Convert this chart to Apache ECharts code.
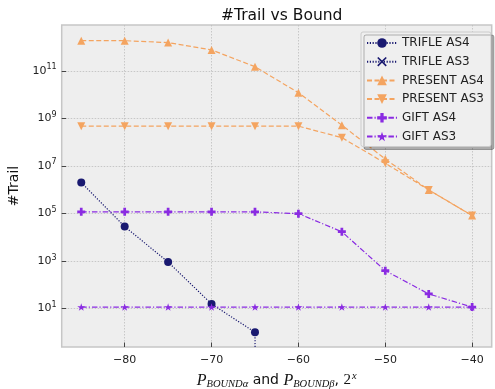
<!DOCTYPE html>
<html>
<head>
<meta charset="utf-8">
<script src="https://cdn.jsdelivr.net/npm/echarts@6/dist/echarts.min.js"></script>
<style>
html,body{margin:0;padding:0;background:#fff;}
#chart{width:495px;height:389px;}
</style>
</head>
<body>
<div id="chart"></div>
<script>
// ---- data ----
const xValues = [-85, -80, -75, -70, -65, -60, -55, -50, -45, -40];
const trifleAS4 = [2.0e6, 2.8e4, 9.0e2, 15.5, 1, 0, 0, 0, 0, 0];
const trifleAS3 = [0, 0, 0, 0, 0, 0, 0, 0, 0, 0];
const presentAS4 = [1.86e12, 1.86e12, 1.55e12, 7.6e11, 1.5e11, 1.2e10, 5.2e8, 1.95e7, 9.8e5, 8.1e4];
const presentAS3 = [4.7e8, 4.7e8, 4.7e8, 4.7e8, 4.7e8, 4.7e8, 1.55e8, 1.3e7, 9.8e5, 8.1e4];
const giftAS4 = [1.17e5, 1.17e5, 1.17e5, 1.17e5, 1.17e5, 9.8e4, 1.7e4, 390, 41, 11.5];
const giftAS3 = [11.5, 11.5, 11.5, 11.5, 11.5, 11.5, 11.5, 11.5, 11.5, 11.5];
const xTicks = [-80, -70, -60, -50, -40];
const yTicks = [1e1, 1e3, 1e5, 1e7, 1e9, 1e11];

// ---- build ----
const TINY = 1e-300; // zero values are clipped far below the axis on a log scale
const pts = arr => xValues.map((x, i) => [x, arr[i] > 0 ? arr[i] : TINY]);

const PLUS = 'path://M3.3,0H6.7V3.3H10V6.7H6.7V10H3.3V6.7H0V3.3H3.3Z';
const STAR = 'path://M50,0L61.23,34.55L97.55,34.55L68.17,55.9L79.39,90.45L50,69.1L20.61,90.45L31.83,55.9L2.45,34.55L38.77,34.55Z';
const XMARK = 'path://M0,1.2L1.2,0L5,3.8L8.8,0L10,1.2L6.2,5L10,8.8L8.8,10L5,6.2L1.2,10L0,8.8L3.8,5Z';

const NAVY = '#191970', ORANGE = '#f4a460', VIOLET = '#8a2be2';
const DOT = [1.2, 1.6], DASH = [5, 2.5], DASHDOT = [5.5, 2, 1.2, 2];

function mk(name, arr, color, dash, symbol, size, rotate) {
  return {
    name, type: 'line', data: pts(arr), clip: true,
    symbol, symbolSize: size, symbolRotate: rotate || 0, symbolKeepAspect: true,
    showAllSymbol: true,
    lineStyle: { color, width: 1.2, type: dash },
    itemStyle: { color, borderWidth: 0 },
    emphasis: { disabled: true },
    animation: false
  };
}

const chart = echarts.init(document.getElementById('chart'), null, { renderer: 'canvas' });
chart.setOption({
  animation: false,
  backgroundColor: '#ffffff',
  title: {
    text: '#Trail vs Bound', left: 276.7, top: 3, textAlign: 'center',
    textStyle: { fontFamily: 'DejaVu Sans', fontSize: 15.5, fontWeight: 'normal', color: '#111' }
  },
  grid: {
    left: 61.7, right: 3.3, top: 25, bottom: 42,
    outerBoundsMode: 'none', containLabel: false,
    show: true, backgroundColor: '#eeeeee', borderColor: '#c6c6c6', borderWidth: 1.5
  },
  legend: {
    orient: 'vertical', left: 361, top: 32,
    itemWidth: 30, itemHeight: 12, itemGap: 6.7,
    padding: [5, 7, 4, 5],
    backgroundColor: '#efefef', borderColor: '#cccccc', borderWidth: 1, borderRadius: 2,
    shadowColor: 'rgba(0,0,0,0.28)', shadowBlur: 0, shadowOffsetX: 3, shadowOffsetY: 3,
    textStyle: { fontFamily: 'DejaVu Sans', fontSize: 12, color: '#222' },
    data: ['TRIFLE AS4', 'TRIFLE AS3', 'PRESENT AS4', 'PRESENT AS3', 'GIFT AS4', 'GIFT AS3']
  },
  xAxis: {
    type: 'value', min: -87.25, max: -37.75,
    name: '{P|P}{sub|BOUNDα}{t| and }{P|P}{sub|BOUNDβ}{t|, }{n|2}{sup|x}',
    nameLocation: 'middle', nameGap: 21,
    nameTextStyle: {
      rich: {
        P: { fontFamily: 'Liberation Serif', fontStyle: 'italic', fontSize: 16, color: '#111', lineHeight: 18 },
        sub: { fontFamily: 'Liberation Serif', fontStyle: 'italic', fontSize: 10.5, color: '#111', lineHeight: 18, padding: [7, 0, 0, 0] },
        t: { fontFamily: 'DejaVu Sans', fontSize: 14, color: '#111', lineHeight: 18 },
        n: { fontFamily: 'Liberation Serif', fontSize: 15, color: '#111', lineHeight: 18 },
        sup: { fontFamily: 'Liberation Serif', fontStyle: 'italic', fontSize: 10.5, color: '#111', lineHeight: 18, padding: [0, 0, 8, 1] }
      }
    },
    axisLine: { show: false },
    axisTick: { show: true, inside: true, length: 4.5, lineStyle: { color: '#444', width: 1 }, customValues: xTicks },
    axisLabel: {
      customValues: xTicks, margin: 8,
      fontFamily: 'DejaVu Sans', fontSize: 11, color: '#222',
      formatter: v => String(v).replace('-', '\u2212')
    },
    splitLine: { show: true, lineStyle: { color: '#bdbdbd', width: 0.8, type: [1.5, 1.5] } }
  },
  yAxis: {
    type: 'log', logBase: 10, min: Math.pow(10, -0.62), max: Math.pow(10, 12.93),
    name: '#Trail', nameLocation: 'middle', nameGap: 40,
    nameTextStyle: { fontFamily: 'DejaVu Sans', fontSize: 14, color: '#111' },
    axisLine: { show: false },
    axisTick: { show: true, inside: true, length: 4.5, lineStyle: { color: '#444', width: 1 }, customValues: yTicks },
    axisLabel: {
      customValues: yTicks, margin: 5,
      formatter: v => '{b|10}{s|' + Math.round(Math.log10(v)) + '}',
      rich: {
        b: { fontFamily: 'DejaVu Sans', fontSize: 11, color: '#222' },
        s: { fontFamily: 'DejaVu Sans', fontSize: 8, color: '#222', padding: [0, 0, 7, 0] }
      }
    },
    splitLine: { show: true, lineStyle: { color: '#bdbdbd', width: 0.8, type: [1.5, 1.5] } },
    minorTick: { show: false }
  },
  series: [
    mk('TRIFLE AS4', trifleAS4, NAVY, DOT, 'circle', 8),
    mk('TRIFLE AS3', trifleAS3, NAVY, DOT, XMARK, 7),
    mk('PRESENT AS4', presentAS4, ORANGE, DASH, 'triangle', 8),
    mk('PRESENT AS3', presentAS3, ORANGE, DASH, 'triangle', 8, 180),
    mk('GIFT AS4', giftAS4, VIOLET, DASHDOT, PLUS, 8),
    mk('GIFT AS3', giftAS3, VIOLET, DASHDOT, STAR, 8)
  ]
});
</script>
</body>
</html>
